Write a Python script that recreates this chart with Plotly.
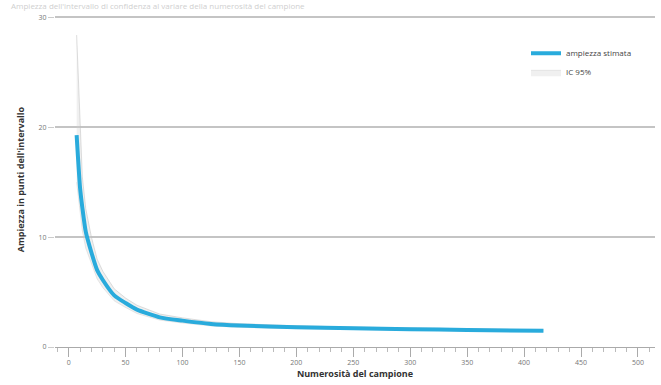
import plotly.graph_objects as go

# Sample size and interval width (points)
sample_size = [7, 10, 12, 15, 20, 25, 30, 40, 50, 60, 80, 100, 125, 150, 200, 250, 300, 350, 417]
width = [19.3, 14.5, 12.7, 10.5, 8.6, 7.0, 6.1, 4.7, 4.0, 3.4, 2.7, 2.4, 2.1, 1.95, 1.8, 1.7, 1.62, 1.55, 1.48]
width_upper = [28.4, 19.5, 15.5, 12.6, 10.0, 8.0, 6.9, 5.3, 4.45, 3.8, 3.0, 2.65, 2.3, 2.12, 1.93, 1.81, 1.72, 1.64, 1.56]
width_lower = [15.0, 12.0, 10.6, 9.0, 7.5, 6.2, 5.4, 4.2, 3.6, 3.05, 2.45, 2.18, 1.92, 1.79, 1.67, 1.59, 1.52, 1.46, 1.40]

x_ticks = [0, 50, 100, 150, 200, 250, 300, 350, 400, 450, 500]
y_ticks = [0, 10, 20, 30]

TITLE = "Ampiezza dell'intervallo di confidenza al variare della numerosità del campione"
FONT = "Open Sans, Liberation Sans, sans-serif"
LINE = "#29abdc"

fig = go.Figure()

# 95% band
fig.add_trace(go.Scatter(
    x=sample_size, y=width_upper, mode="lines",
    line=dict(width=1, color="rgba(190,190,190,0.5)"),
    showlegend=False, hoverinfo="skip",
))
fig.add_trace(go.Scatter(
    x=sample_size, y=width_lower, mode="lines",
    line=dict(width=1, color="rgba(200,200,200,0.4)"),
    fill="tonexty", fillcolor="rgba(205,205,205,0.3)",
    name="IC 95%", hoverinfo="skip", legendrank=2,
))
# Estimated width, drawn above the band
fig.add_trace(go.Scatter(
    x=sample_size, y=width, mode="lines",
    line=dict(width=4, color=LINE, shape="spline", smoothing=0.6),
    name="ampiezza stimata", legendrank=1,
))

# Faint heading along the top edge
fig.add_annotation(
    text=TITLE, xref="paper", yref="paper", x=-0.075, y=1,
    xanchor="left", yanchor="bottom", showarrow=False,
    font=dict(size=8, color="#cfcfcf"), borderpad=0,
)

fig.update_layout(
    width=661, height=385,
    margin=dict(l=55, r=6, t=12, b=38),
    paper_bgcolor="white", plot_bgcolor="white",
    font=dict(family=FONT, size=8, color="#555"),
    legend=dict(
        x=0.785, y=0.92, xanchor="left", yanchor="top",
        bgcolor="rgba(0,0,0,0)", font=dict(size=8, color="#444"),
        traceorder="normal", tracegroupgap=4,
    ),
    xaxis=dict(
        range=[-12, 515], tickvals=x_ticks, ticktext=[str(v) for v in x_ticks],
        showgrid=False, zeroline=False,
        showline=True, linecolor="#aaaaaa", linewidth=1,
        ticks="outside", ticklen=9, tickcolor="#aaaaaa",
        minor=dict(dtick=10, ticks="outside", ticklen=4, tickcolor="#bbbbbb"),
        tickfont=dict(size=7, color="#777"),
        title=dict(text="<b>Numerosità del campione</b>", standoff=4,
                   font=dict(size=9, color="#333")),
    ),
    yaxis=dict(
        range=[0, 30.5], tickvals=y_ticks,
        showgrid=True, gridcolor="#c4c4c4", gridwidth=1.5,
        zeroline=False, showline=False,
        ticks="outside", ticklen=6, tickcolor="#cccccc",
        tickfont=dict(size=7, color="#777"),
        title=dict(text="<b>Ampiezza in punti dell'intervallo</b>", standoff=12,
                   font=dict(size=9, color="#333")),
    ),
)

fig.write_html("out.html")
